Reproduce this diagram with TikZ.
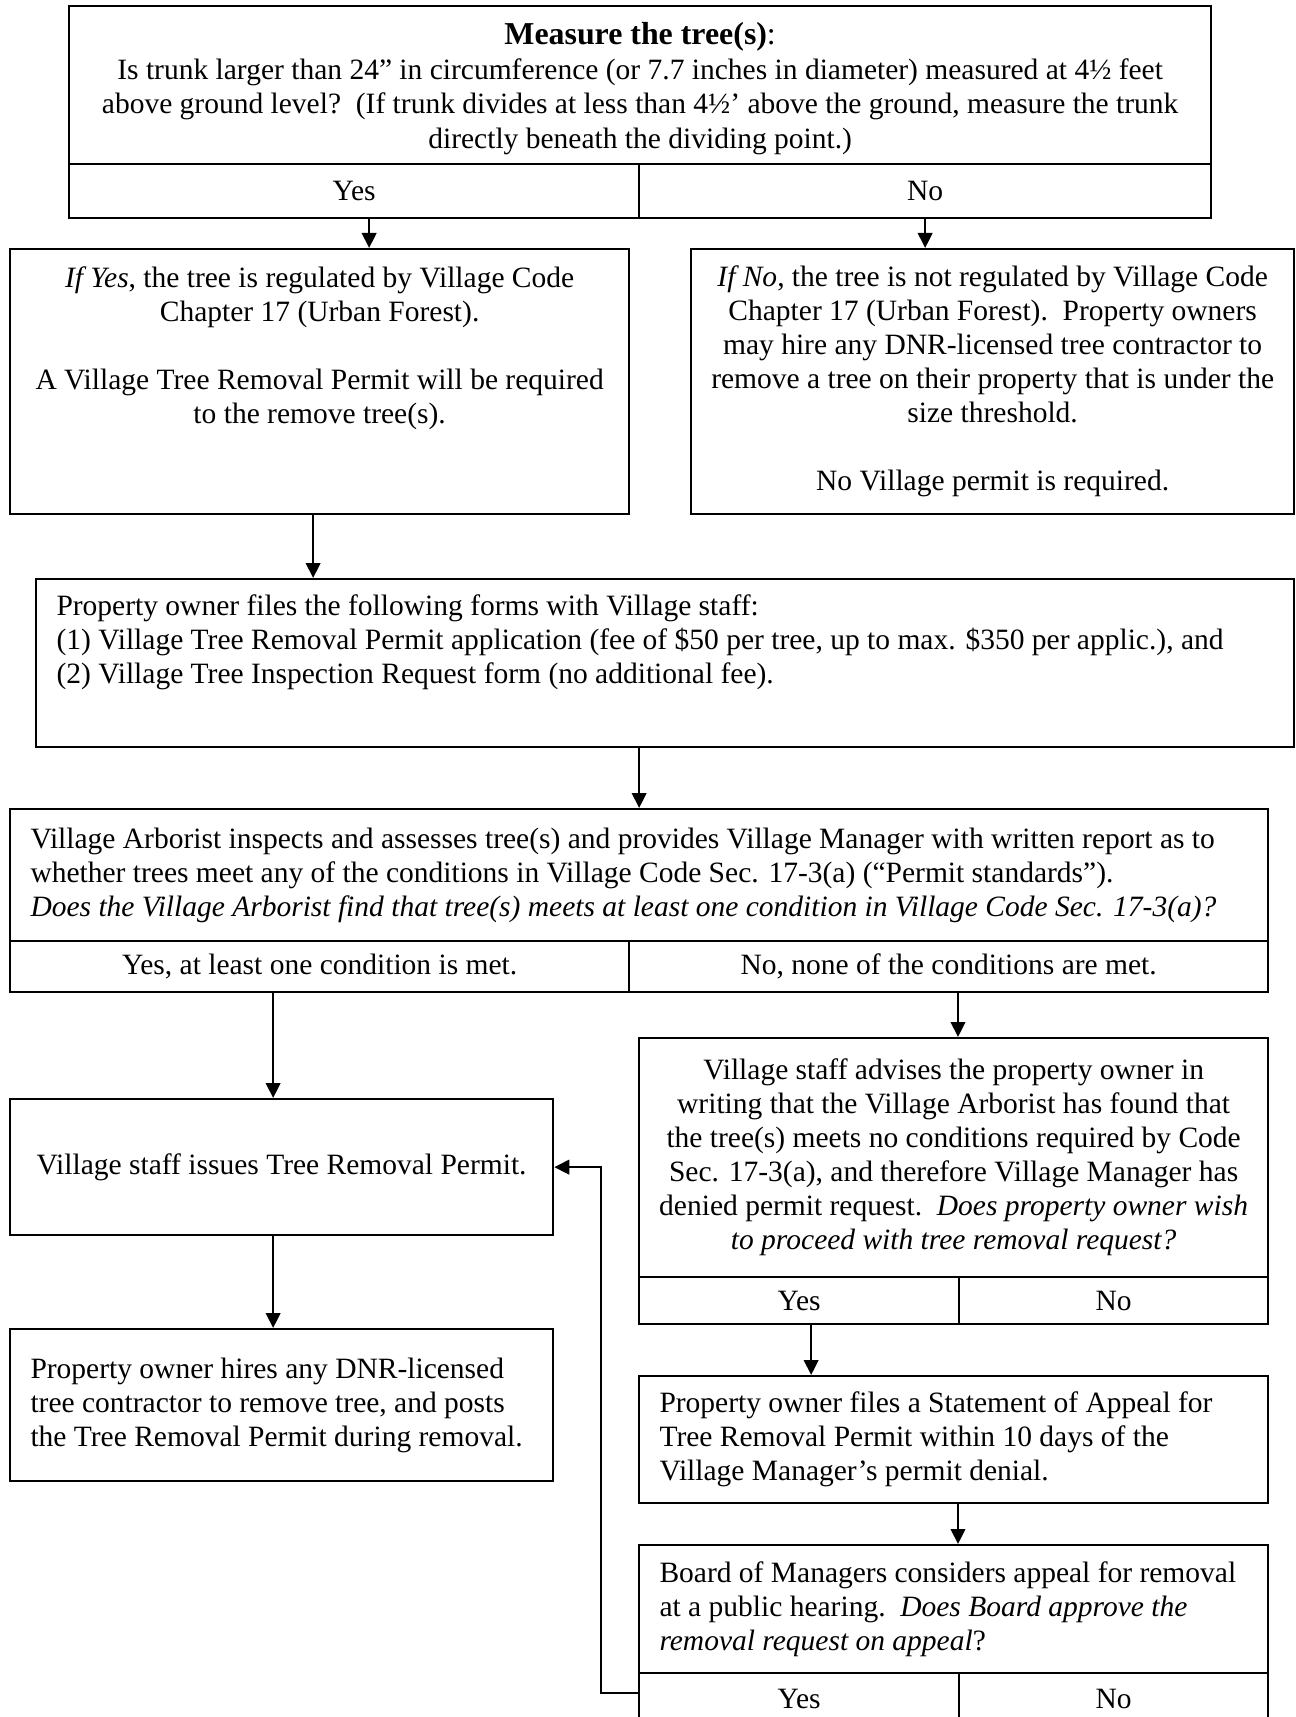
\documentclass[tikz,border=0pt]{standalone}
\usepackage{fontspec}
\setmainfont{Liberation Serif}
\usetikzlibrary{arrows.meta,calc}
\begin{document}
\begin{tikzpicture}[x=0.4pt,y=-0.4pt,
  box/.style 2 args={draw, line width=0.9pt, inner sep=0pt, anchor=north west,
    minimum width=#1, minimum height=#2},
  txt/.style={inner sep=0pt, font=\fontsize{11.8pt}{13.6pt}\selectfont},
  ctr/.style={txt, align=center},
  lft/.style={txt, align=left},
  arr/.style={line width=0.9pt, -{Triangle[length=6pt,width=5.8pt]}},
]
\clip (0,0) rectangle (1295,1717);
\fill[white] (0,0) rectangle (1295,1717);

% --- box 1: measure
\node[box={456.8pt}{63.2pt}] (q1) at (68,5) {};
\node[ctr, font=\fontsize{11.8pt}{13.9pt}\selectfont] (q1t) at ([yshift=-1.4pt]q1.center) {{\fontsize{12.75pt}{15pt}\selectfont\textbf{Measure the tree(s)}:}\\
Is trunk larger than 24” in circumference (or 7.7 inches in diameter) measured at 4½ feet\\
above ground level?\ \ (If trunk divides at less than 4½’ above the ground, measure the trunk\\
directly beneath the dividing point.)};
\node[box={228pt}{21.6pt}, ctr] (y1) at (68,163) {Yes};
\node[box={228.8pt}{21.6pt}, ctr] (n1) at (638,163) {No};

% --- box 2 / 3
\node[box={247.6pt}{106pt}] (b2) at (9,248) {};
\node[ctr, anchor=north] (b2t) at ([yshift=-7.3pt]b2.north) {\textit{If Yes}, the tree is regulated by Village Code\\
Chapter 17 (Urban Forest).\\[13.6pt]
A Village Tree Removal Permit will be required\\
to the remove tree(s).};
\node[box={241.2pt}{106pt}, ctr] (b3) at (690,248) {\textit{If No}, the tree is not regulated by Village Code\\
Chapter 17 (Urban Forest).\ \ Property owners\\
may hire any DNR-licensed tree contractor to\\
remove a tree on their property that is under the\\
size threshold.\\[13.6pt]
No Village permit is required.};

% --- box 4
\node[box={503.2pt}{67.2pt}] (b4) at (35,578) {};
\node[lft, anchor=north west] (b4t) at ([xshift=8.4pt,yshift=-6.4pt]b4.north west) {Property owner files the following forms with Village staff:\\
(1) Village Tree Removal Permit application (fee of \$50 per tree, up to max. \$350 per applic.), and\\
(2) Village Tree Inspection Request form (no additional fee).};

% --- box 5
\node[box={503.2pt}{52.8pt}] (q5) at (9,808) {};
\node[lft, anchor=west] (q5t) at ([xshift=8.4pt]q5.west) {Village Arborist inspects and assesses tree(s) and provides Village Manager with written report as to\\
whether trees meet any of the conditions in Village Code Sec. 17-3(a) (“Permit standards”).\\
\textit{Does the Village Arborist find that tree(s) meets at least one condition in Village Code Sec. 17-3(a)?}};
\node[box={247.6pt}{20.4pt}, ctr] (y5) at (9,940) {Yes, at least one condition is met.};
\node[box={255.6pt}{20.4pt}, ctr] (n5) at (628,940) {No, none of the conditions are met.};

% --- box 6
\node[box={217.2pt}{54.4pt}, ctr] (b6) at (9,1098) {Village staff issues Tree Removal Permit.};

% --- box 7
\node[box={251.6pt}{95.6pt}, ctr] (q7) at (638,1037) {Village staff advises the property owner in\\
writing that the Village Arborist has found that\\
the tree(s) meets no conditions required by Code\\
Sec. 17-3(a), and therefore Village Manager has\\
denied permit request.\ \ \textit{Does property owner wish}\\
\textit{to proceed with tree removal request?}};
\node[box={128pt}{18.8pt}, ctr] (y7) at (638,1276) {Yes};
\node[box={123.6pt}{18.8pt}, ctr] (n7) at (958,1276) {No};

% --- box 8
\node[box={217.2pt}{60.8pt}] (b8) at (9,1328) {};
\node[lft, anchor=west] (b8t) at ([xshift=8.4pt]b8.west) {Property owner hires any DNR-licensed\\
tree contractor to remove tree, and posts\\
the Tree Removal Permit during removal.};

% --- box 9
\node[box={251.6pt}{50.8pt}] (b9) at (638,1375) {};
\node[lft, anchor=west] (b9t) at ([xshift=8.4pt]b9.west) {Property owner files a Statement of Appeal for\\
Tree Removal Permit within 10 days of the\\
Village Manager’s permit denial.};

% --- box 10
\node[box={251.6pt}{51.2pt}] (q10) at (638,1544) {};
\node[lft, anchor=west] (q10t) at ([xshift=8.4pt]q10.west) {Board of Managers considers appeal for removal\\
at a public hearing.\ \ \textit{Does Board approve the}\\
\textit{removal request on appeal}?};
\node[box={128pt}{20.8pt}, ctr] (y10) at (638,1672) {Yes};
\node[box={123.6pt}{20.8pt}, ctr] (n10) at (958,1672) {No};

% --- connectors
\coordinate (a1) at ([xshift=6pt]y1.south);
\draw[arr] (a1) -- (a1 |- b2.north);
\draw[arr] (n1.south) -- (n1.south |- b3.north);
\coordinate (a3) at ([xshift=-2.6pt]b2.south);
\draw[arr] (a3) -- (a3 |- b4.north);
\coordinate (a4) at ([xshift=-10.4pt]b4.south);
\draw[arr] (a4) -- (a4 |- q5.north);
\coordinate (a5) at ([xshift=-3.4pt]b6.north);
\draw[arr] (a5 |- y5.south) -- (a5);
\draw[arr] (n5.south -| n7.west) -- (q7.north -| n7.west);
\coordinate (a7) at ([xshift=-3.4pt]b6.south);
\draw[arr] (a7) -- (a7 |- b8.north);
\coordinate (a8) at ([xshift=4.8pt]y7.south);
\draw[arr] (a8) -- (a8 |- b9.north);
\draw[arr] (b9.south -| n10.west) -- (q10.north -| n10.west);
\draw[arr] ([yshift=2.4pt]y10.west) -- ++(-14.8pt,0) |- (b6.east);
\end{tikzpicture}
\end{document}
